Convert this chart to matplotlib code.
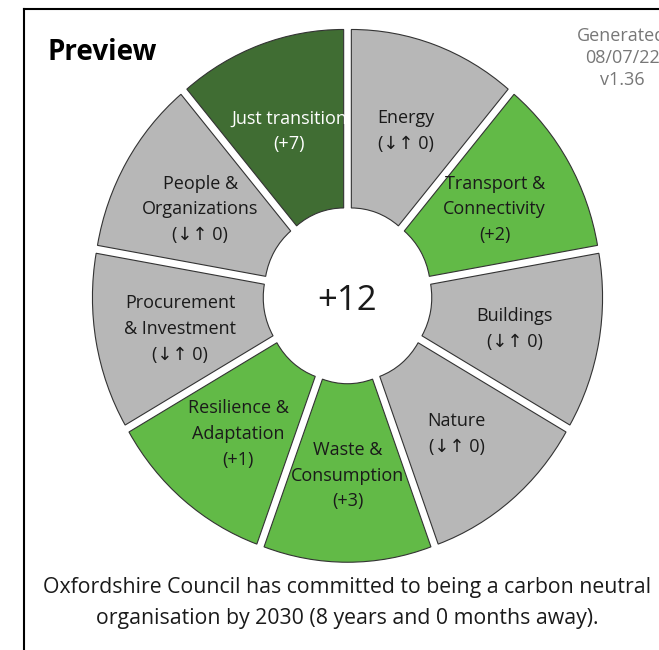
import matplotlib
matplotlib.use('Agg')
import matplotlib.pyplot as plt
from matplotlib.lines import Line2D
import numpy as np

plt.rcParams['font.family'] = ['Open Sans', 'Noto Sans', 'DejaVu Sans']

categories = ['Energy', 'Transport &\nConnectivity', 'Buildings', 'Nature',
              'Waste &\nConsumption', 'Resilience &\nAdaptation',
              'Procurement\n& Investment', 'People &\nOrganizations',
              'Just transition']
scores = [0, 2, 0, 0, 3, 1, 0, 0, 7]
overall = 12  # shown in the middle as printed on the original
slice_sizes = [1] * len(categories)

footer = ('Oxfordshire Council has committed to being a carbon neutral\n'
          'organisation by 2030 (8 years and 0 months away).')
stamp = 'Generated\n08/07/22\nv1.36'

GREY = '#b7b7b7'
LIGHT = '#62ba47'
DARK = '#406d33'


def slice_colour(s):
    if s == 0:
        return GREY
    return LIGHT if s < 5 else DARK


def slice_label(name, s):
    return f'{name}\n(\u2193\u2191 0)' if s == 0 else f'{name}\n(+{s})'


W, H = 659, 650
fig = plt.figure(figsize=(W / 100, H / 100), dpi=100)
ax = fig.add_axes([0, 0, 1, 1])

# donut is a touch taller than wide in the reference
cx, cy, sx, sy = 347.5, 295.5, 244.0, 255.0

inner = 0.30
wedges, _ = ax.pie(slice_sizes, startangle=90, counterclock=False, radius=1.0,
                   explode=[0.046] * len(categories),
                   colors=[slice_colour(s) for s in scores],
                   wedgeprops=dict(width=1 - inner, edgecolor='#333333',
                                   linewidth=0.8))
ax.set_aspect('auto')
ax.set_xlim(-cx / sx, (W - cx) / sx)
ax.set_ylim(-(H - cy) / sy, cy / sy)
ax.axis('off')

mid_r = inner + (1 - inner) / 2
for i, (w, name, s) in enumerate(zip(wedges, categories, scores)):
    ang = np.deg2rad((w.theta1 + w.theta2) / 2)
    x = w.center[0] + mid_r * np.cos(ang)
    y = w.center[1] + mid_r * np.sin(ang) - 0.01
    col = 'white' if slice_colour(s) == DARK else '#1a1a1a'
    t = ax.text(x, y, slice_label(name, s), ha='center', va='center',
                fontsize=13, color=col, linespacing=1.55)
    if i == len(categories) - 1:
        t.set_clip_path(w)

ax.text(0, -0.02, f'+{overall}', ha='center', va='center', fontsize=25,
        color='#1a1a1a')

fig.text(47 / W, 1 - 52 / H, 'Preview', fontsize=20, fontweight='bold',
         ha='left', va='center')
# runs past the right edge, as in the reference
fig.text(622 / W, 1 - 58 / H, stamp, fontsize=13, color='#777777',
         ha='center', va='center', linespacing=1.3)
fig.text(347 / W, 1 - 603 / H, footer, fontsize=15.3, color='#1a1a1a',
         ha='center', va='center', linespacing=1.58)

fig.add_artist(Line2D([24 / W, 1], [1 - 9 / H] * 2, transform=fig.transFigure,
                      color='black', lw=1.5))
fig.add_artist(Line2D([24 / W] * 2, [0, 1 - 9 / H], transform=fig.transFigure,
                      color='black', lw=1.5))

fig.savefig('out.png', dpi=100)
